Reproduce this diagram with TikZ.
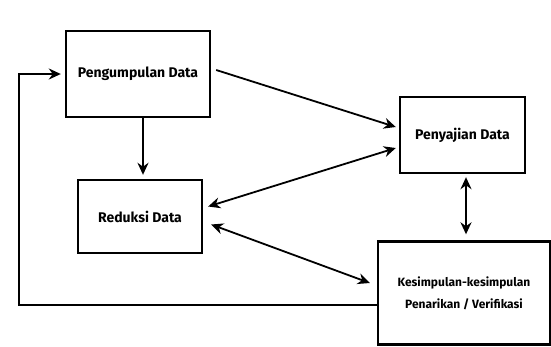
\documentclass[tikz,border=0pt]{standalone}
\usepackage{fontspec}
\setmainfont{Fira Sans}
\usetikzlibrary{arrows.meta}

\begin{document}
\begin{tikzpicture}[x=1pt,y=-1pt]
	\useasboundingbox (0,0) rectangle (551,346);

	\begin{scope}[every node/.style={rectangle,draw,line width=2.4pt,inner sep=0pt,
	              font=\bfseries\fontsize{14}{20}\selectfont,align=center}]
	    \node[minimum width=144pt,minimum height=86pt] (pengumpulan) at (138,74) {Pengumpulan Data};
	    \node[minimum width=125pt,minimum height=76pt] (penyajian) at (462.5,135) {Penyajian Data};
	    \node[minimum width=124pt,minimum height=73pt] (reduksi) at (140,216.5) {Reduksi Data};
	    \node[minimum width=172pt,minimum height=103pt,font=\bfseries\fontsize{12}{22}\selectfont]
	        (kesimpulan) at (464,293) {Kesimpulan-kesimpulan\\Penarikan / Verifikasi};
	\end{scope}

	\coordinate (corner) at (19,305);

	\begin{scope}[line width=1.8pt,
	              >={Stealth[length=12pt,width=11pt]}]
	    \draw [->] ([xshift=5pt,yshift=4pt]pengumpulan.east) -- ([xshift=-3pt,yshift=8pt]penyajian.west);
	    \draw [->] ([xshift=5pt]pengumpulan.south) -- ([xshift=3pt,yshift=4pt]reduksi.north);
	    \draw [<->] ([xshift=5pt,yshift=10pt]reduksi.east) -- ([xshift=-3pt,yshift=-13pt]penyajian.west);
	    \draw [<->] ([xshift=8pt,yshift=-8pt]reduksi.east) -- ([xshift=-7pt,yshift=10pt]kesimpulan.west);
	    \draw [<->] ([xshift=3.5pt,yshift=-3pt]penyajian.south) -- ([xshift=2pt,yshift=6pt]kesimpulan.north);
	    \draw [->] ([yshift=-12pt]kesimpulan.west) -- (corner) |- ([xshift=-4pt]pengumpulan.west);
	\end{scope}
\end{tikzpicture}
\end{document}
